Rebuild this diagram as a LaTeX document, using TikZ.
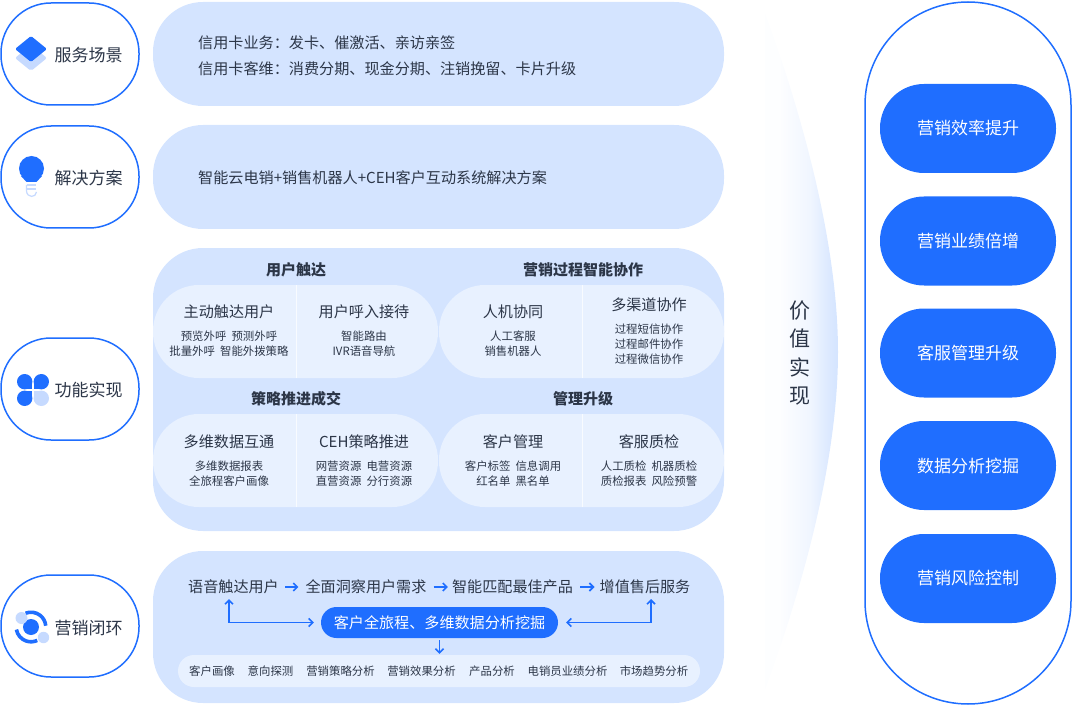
\documentclass[tikz,border=0pt]{standalone}
\usepackage{xcolor}
\usepackage{fontspec}
\setmainfont{Noto Sans CJK SC}
\usetikzlibrary{arrows.meta}

\definecolor{brandblue}{HTML}{1F6EFF}
\definecolor{panelblue}{HTML}{D4E4FF}
\definecolor{pillblue}{HTML}{E8F1FF}
\definecolor{iconlight}{HTML}{C6DAFF}
\definecolor{inktext}{HTML}{2C3648}

\pgfdeclarehorizontalshading{crescentfade}{100bp}{color(0bp)=(white);color(35bp)=(white!95!panelblue);color(49bp)=(white!75!panelblue);color(56bp)=(white!65!panelblue);color(69.5bp)=(white!15!panelblue);color(75bp)=(panelblue);color(100bp)=(panelblue)}

\tikzset{
  tagpill/.style={draw=brandblue,line width=1.5pt,fill=white,rounded corners=50pt,minimum width=138pt,minimum height=102pt,inner sep=0pt},
  panel/.style={fill=panelblue,rounded corners=50pt,minimum width=571pt,inner sep=0pt},
  subpill/.style={fill=pillblue,rounded corners=46pt,minimum width=285pt,minimum height=93pt,inner sep=0pt},
  valuepill/.style={fill=brandblue,text=white,rounded corners=44pt,minimum width=176pt,minimum height=89pt,inner sep=0pt,font=\fontsize{17}{20}\selectfont},
  tagtext/.style={text=inktext,inner sep=0pt,font=\fontsize{17}{20}\selectfont},
  bodytext/.style={text=inktext,inner sep=0pt,font=\fontsize{15.12}{26}\selectfont,align=left},
  grouptext/.style={text=inktext,inner sep=0pt,font=\fontsize{15}{18}\selectfont\bfseries},
  headtext/.style={text=inktext,inner sep=0pt,font=\fontsize{15.1}{18}\selectfont},
  smalltext/.style={text=inktext,inner sep=0pt,font=\fontsize{11.4}{15}\selectfont,align=center},
  flow/.style={draw=brandblue,line width=1.6pt,>={Straight Barb[length=4pt,width=8pt]}}
}

\begin{document}
\begin{tikzpicture}[x=1pt,y=-1pt]
  \useasboundingbox (0,0) rectangle (1072,706);

  % crescent behind the value label
  \shade[shading=crescentfade] (765,13) .. controls (806,125) and (838,250) .. (838,352)
    .. controls (838,455) and (806,578) .. (765,690) -- cycle;

  % left tags
  \foreach \name/\y in {scene/54,plan/177,feature/389,loop/626}{
    \node[tagpill] (\name) at (70,\y) {};
  }
  \node[tagtext] (scenetext) at (88.5,55) {服务场景};
  \node[tagtext] (plantext) at (88.5,178) {解决方案};
  \node[tagtext] (featuretext) at (88.5,390) {功能实现};
  \node[tagtext] (looptext) at (88.5,628) {营销闭环};

  % icons
  \fill[iconlight,rounded corners=2pt] (31,45) -- (47,58) -- (31,71) -- (15,58) -- cycle;
  \fill[brandblue,rounded corners=1.5pt] (31,36) -- (47,49) -- (31,62) -- (15,49) -- cycle;

  \fill[brandblue] (31.5,168.5) circle (12.5pt);
  \fill[brandblue] (21,176) -- (42,176) -- (36.5,182) -- (26.5,182) -- cycle;
  \draw[iconlight,line width=1.2pt] (27,185) -- (36,185) (27,189) -- (36,189);
  \draw[iconlight,line width=1.2pt] (26.5,185) -- (26.5,191) .. controls (27,198) and (36,198) .. (36.5,192);

  \foreach \cx/\cy/\ex/\ey/\col in {24.7/381.7/32.4/389.4/brandblue,41.3/381.7/33.6/389.4/brandblue,24.7/398.3/32.4/390.6/brandblue,41.3/398.3/33.6/390.6/iconlight}{
    \fill[\col] (\cx,\cy) circle (7.7pt);
    \fill[\col] (\cx,\cy) rectangle (\ex,\ey);
  }

  \fill[brandblue] (31,627) circle (8pt);
  \draw[brandblue,line width=3.6pt] (31,627) ++(112:14.8pt) arc[start angle=112,end angle=5,radius=14.8pt];
  \draw[brandblue,line width=3.6pt] (31,627) ++(190:14.8pt) arc[start angle=190,end angle=295,radius=14.8pt];
  \fill[iconlight] (21.5,618) circle (6pt);
  \fill[iconlight] (43.5,637.5) circle (5.7pt);

  % panels
  \node[panel,minimum height=104pt] (scenepanel) at (438.5,54) {};
  \node[panel,minimum height=104pt] (planpanel) at (438.5,177) {};
  \node[panel,minimum height=283pt] (featurepanel) at (438.5,389.5) {};
  \node[panel,minimum height=152pt] (looppanel) at (438.5,627) {};

  \node[bodytext,anchor=west] (scenebody) at (198,56) {信用卡业务：发卡、催激活、亲访亲签\\信用卡客维：消费分期、现金分期、注销挽留、卡片升级};
  \node[bodytext,anchor=west] (planbody) at (198,178) {智能云电销+销售机器人+CEH客户互动系统解决方案};

  % feature groups
  \foreach \name/\x/\y in {reach/295.5/331.5,assist/581.5/331.5,push/295.5/460.5,manage/581.5/460.5}{
    \node[subpill] (\name) at (\x,\y) {};
    \draw[white!70!pillblue,line width=1pt] ([xshift=1pt]\name.north) -- ([xshift=1pt]\name.south);
  }
  \foreach \name/\x/\y/\lab in {reachhead/296/270/用户触达,assisthead/583/270/营销过程智能协作,pushhead/296/399/策略推进成交,managehead/583/399/管理升级}{
    \node[grouptext] (\name) at (\x,\y) {\lab};
  }
  \foreach \name/\x/\y/\lab in {activehead/229/312/主动触达用户,inboundhead/364/312/用户呼入接待,humanhead/513/312/人机协同,channelhead/649/305/多渠道协作,
    datahead/229/442/多维数据互通,cehhead/364/442/CEH策略推进,customerhead/513/442/客户管理,qualityhead/649/442/客服质检}{
    \node[headtext] (\name) at (\x,\y) {\lab};
  }
  \foreach \name/\x/\y/\lab in {activetext/229/343.5/预览外呼\ \ 预测外呼\\批量外呼\ \ 智能外拨策略,inboundtext/364/343.5/智能路由\\IVR语音导航,
    humantext/513/343.5/人工客服\\销售机器人,channeltext/649/344/过程短信协作\\过程邮件协作\\过程微信协作,
    datatext/229/473.5/多维数据报表\\全旅程客户画像,cehtext/364/473.5/网营资源\ \ 电营资源\\直营资源\ \ 分行资源,
    customertext/513/473.5/客户标签\ \ 信息调用\\红名单\ \ 黑名单,qualitytext/649/473.5/人工质检\ \ 机器质检\\质检报表\ \ 风险预警}{
    \node[smalltext] (\name) at (\x,\y) {\lab};
  }

  % marketing loop
  \foreach \name/\x/\lab in {voice/233.5/语音触达用户,insight/366/全面洞察用户需求,match/512.5/智能匹配最佳产品,service/645/增值售后服务}{
    \node[headtext] (\name) at (\x,587) {\lab};
  }
  \node[fill=brandblue,text=white,rounded corners=15.5pt,minimum width=237pt,minimum height=31pt,inner sep=0pt,font=\fontsize{15.1}{18}\selectfont] (journey) at (439.5,622.5) {客户全旅程、多维数据分析挖掘};
  \node[fill=pillblue,rounded corners=16pt,minimum width=522pt,minimum height=32pt,inner sep=0pt] (analysis) at (439,671) {};
  \foreach \name/\x/\lab in {profile/212/客户画像,intent/270.5/意向探测,strategy/340.5/营销策略分析,effect/421.5/营销效果分析,product/492/产品分析,agent/567.5/电销员业绩分析,market/654/市场趋势分析}{
    \node[smalltext] (\name) at (\x,671) {\lab};
  }
  \draw[flow,->,shorten <=6pt,shorten >=7pt] (voice) -- (insight);
  \draw[flow,->,shorten <=7pt,shorten >=4pt] (insight) -- (match);
  \draw[flow,->,shorten <=7pt,shorten >=5pt] (match) -- (service);
  \coordinate (voicefoot) at (229,599);
  \coordinate (servicefoot) at (651,599);
  \draw[flow,<->,shorten <=7pt] (journey.west) -| (voicefoot);
  \draw[flow,<->,shorten <=8pt] (journey.east) -| (servicefoot);
  \draw[flow,->,shorten <=2pt,shorten >=1pt] (journey.south) -- (journey.south |- analysis.north);

  % value column
  \node[text=inktext,inner sep=0pt,font=\fontsize{21}{28.5}\selectfont,align=center] (valuelabel) at (800,353) {价\\值\\实\\现};
  \node[draw=brandblue,line width=1.5pt,fill=none,rounded corners=103pt,minimum width=206pt,minimum height=702pt,inner sep=0pt] (valueframe) at (968,353) {};
  \foreach \i/\y/\lab in {1/128.5/营销效率提升,2/241/营销业绩倍增,3/353/客服管理升级,4/465.5/数据分析挖掘,5/578.5/营销风险控制}{
    \node[valuepill] (value\i) at (968,\y) {\lab};
  }
\end{tikzpicture}
\end{document}
